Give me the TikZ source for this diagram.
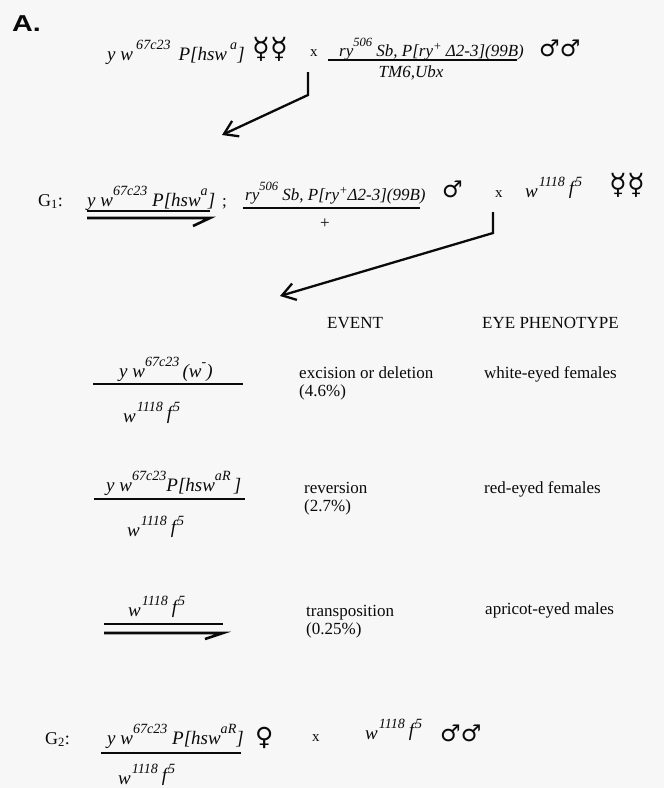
\documentclass[tikz,border=0pt]{standalone}
\usepackage{fontspec}
\usepackage{graphicx}
\setmainfont{Liberation Serif}
\newfontfamily\symfont{DejaVu Sans}
\newfontfamily\headfont{Liberation Sans}
\usetikzlibrary{arrows.meta}

\definecolor{paper}{RGB}{247,247,247}
\definecolor{ink}{RGB}{10,10,10}

% raised, reduced allele superscript
\newcommand{\up}[1]{\raisebox{0.56em}{\scalebox{0.74}{#1}}}
% low superscript for + and -
\newcommand{\lowup}[1]{\raisebox{0.32em}{\scalebox{0.74}{#1}}}
% the white allele carried by the tester stock
\newcommand{\testallele}{w\kern1pt\up{1118}\kern4pt\raisebox{2.5pt}{f}\kern1pt\up{5}}

\tikzset{
  geno/.style={inner sep=0pt, text=ink, font=\fontsize{19}{21}\selectfont\itshape},
  genosmall/.style={inner sep=0pt, text=ink, font=\fontsize{17}{19}\selectfont\itshape},
  plain/.style={inner sep=0pt, text=ink, font=\fontsize{17}{19}\selectfont},
  femsym/.style={inner sep=0pt, text=ink, font=\fontsize{29}{31}\selectfont\symfont},
  malesym/.style={inner sep=0pt, text=ink, font=\fontsize{23}{25}\selectfont\symfont},
  crosssign/.style={inner sep=0pt, text=ink, font=\fontsize{15}{17}\selectfont},
  bar/.style={ink, line width=2.2pt},
  chrom/.style={ink, line width=2.6pt},
  lineage/.style={ink, line width=2.3pt, -{Straight Barb[length=13pt,width=17pt]}},
}

\begin{document}
\begin{tikzpicture}[x=1pt, y=-1pt]
\fill[paper] (0,0) rectangle (664,788);
\useasboundingbox (0,0) rectangle (664,788);

% panel label
\node[inner sep=0pt, anchor=base west, text=ink, font=\fontsize{23}{25}\selectfont\headfont\bfseries] (panel) at (12,31) {\scalebox{1.25}[1]{A.}};

% parental cross
\node[geno, anchor=base west] (pfem) at (107,60) {y w\,\up{67c23}\, P[hsw\,\up{a}]};
\node[femsym, anchor=base west] (pfemsym) at (252,58) {☿☿};
\node[crosssign, anchor=base west] (xa) at (310,56) {x};
\node[genosmall, anchor=base west] (pmale) at (339,56) {ry\up{506} Sb, P[ry\lowup{+} Δ2-3](99B)};
\draw[bar] (328,60) -- (517,60);
\node[genosmall, anchor=base] (pbal) at (411,77) {TM6,Ubx};
\node[malesym, anchor=base west] (pmalesym) at (539,56) {♂♂};

\coordinate (a1top) at (308,72);
\coordinate (a1bend) at (308,95);
\coordinate (a1tip) at (222,135);
\draw[lineage] (a1top) -- (a1bend) -- (a1tip);

% G1 cross
\node[plain, anchor=base west, font=\fontsize{18}{20}\selectfont] (gone) at (38,206) {G\textsubscript{1}:};
\node[geno, anchor=base west] (gonex) at (87,206) {y w\up{67c23} P[hsw\up{a}]};
\draw[chrom] (87,211) -- (210,211);
\draw[chrom] (87,218) -- (210,218) -- (193,226);
\node[plain, anchor=base west] (semi) at (222,206) {;};
\node[genosmall, anchor=base west] (gonethird) at (245,200) {ry\up{506} Sb, P[ry\lowup{+}Δ2-3](99B)};
\draw[bar] (243,208) -- (420,208);
\node[plain, anchor=base] (plus) at (325,228) {+};
\node[malesym, anchor=base west] (gonemalesym) at (442,197) {♂};
\node[crosssign, anchor=base west] (xb) at (495,197) {x};
\node[geno, anchor=base west] (gonemate) at (525,197) {\testallele};
\node[femsym, anchor=base west] (gonefemsym) at (609,194) {☿☿};

\coordinate (a2top) at (493,212);
\coordinate (a2bend) at (493,233);
\coordinate (a2tip) at (280,296);
\draw[lineage] (a2top) -- (a2bend) -- (a2tip);

% column heads
\node[plain, anchor=base west] (hevent) at (327,328) {EVENT};
\node[plain, anchor=base west] (hpheno) at (482,328) {EYE PHENOTYPE};

% excision or deletion
\node[geno, anchor=base west] (exnum) at (119,377) {y w\up{67c23}\,(w\up{-})};
\draw[bar] (93,384) -- (243,384);
\node[geno, anchor=base west] (exden) at (123,422) {\testallele};
\node[plain, anchor=base west] (exevent) at (299,378) {excision or deletion};
\node[plain, anchor=base west] (exrate) at (299,396) {(4.6\%)};
\node[plain, anchor=base west] (expheno) at (484,378) {white-eyed females};

% reversion
\node[geno, anchor=base west] (revnum) at (106,491) {y w\up{67c23}P[hsw\up{aR}\,]};
\draw[bar] (94,499) -- (245,499);
\node[geno, anchor=base west] (revden) at (127,536) {\testallele};
\node[plain, anchor=base west] (revevent) at (304,493) {reversion};
\node[plain, anchor=base west] (revrate) at (304,511) {(2.7\%)};
\node[plain, anchor=base west] (revpheno) at (484,493) {red-eyed females};

% transposition
\node[geno, anchor=base west] (trnum) at (128,616) {\testallele};
\draw[chrom] (104,624) -- (223,624);
\draw[chrom] (104,633) -- (223,633) -- (205,639);
\node[plain, anchor=base west] (trevent) at (306,616) {transposition};
\node[plain, anchor=base west] (trrate) at (306,634) {(0.25\%)};
\node[plain, anchor=base west] (trpheno) at (485,614) {apricot-eyed males};

% G2 cross
\node[plain, anchor=base west, font=\fontsize{18}{20}\selectfont] (gtwo) at (45,744) {G\textsubscript{2}:};
\node[geno, anchor=base west] (gtwonum) at (107,744) {y w\up{67c23} P[hsw\up{aR}]};
\draw[bar] (101,753) -- (241,753);
\node[geno, anchor=base west] (gtwoden) at (118,784) {\testallele};
\node[femsym, anchor=base west, font=\fontsize{25}{27}\selectfont\symfont] (gtwofemsym) at (255,745) {♀};
\node[crosssign, anchor=base west] (xc) at (312,741) {x};
\node[geno, anchor=base west] (gtwomate) at (365,739) {\testallele};
\node[malesym, anchor=base west] (gtwomalesym) at (440,741) {♂♂};
\end{tikzpicture}
\end{document}
